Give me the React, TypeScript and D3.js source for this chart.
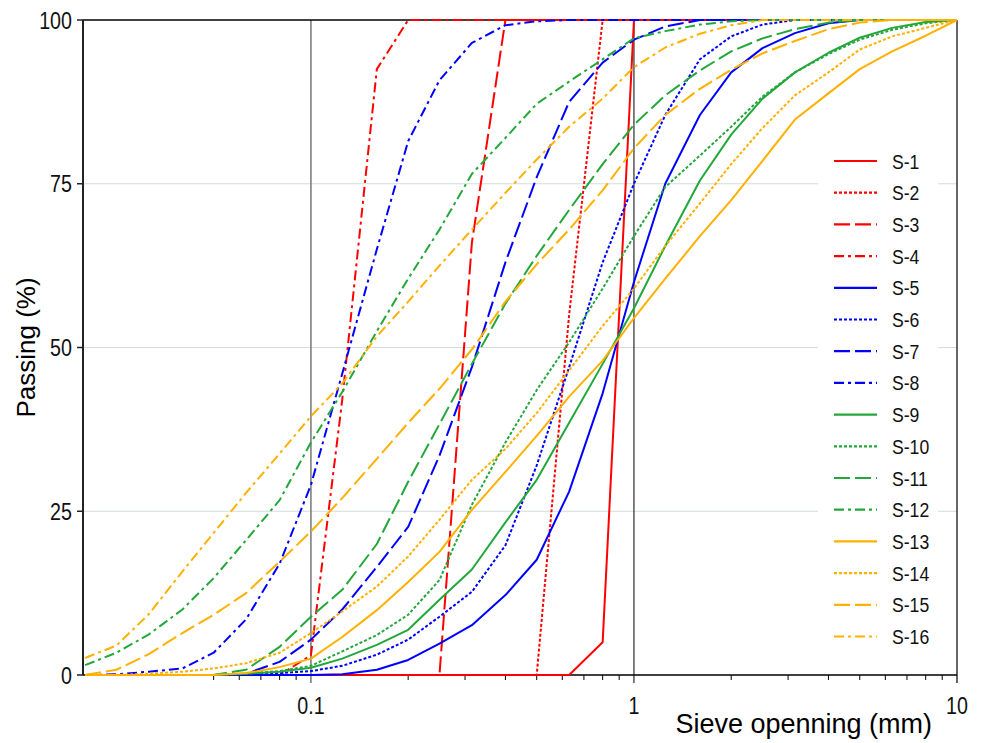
import React from "react";
import * as d3 from "d3";

// sieve sizes (mm), R10 series
const sieves = [
  0.02, 0.025, 0.0315, 0.04, 0.05, 0.063, 0.08, 0.1, 0.125, 0.16, 0.2, 0.25, 0.315, 0.4,
  0.5, 0.63, 0.8, 1, 1.25, 1.6, 2, 2.5, 3.15, 4, 5, 6.3, 8, 10,
];

// passing (%) per sample
const s1 = [0, 0, 0, 0, 0, 0, 0, 0, 0, 0, 0, 0, 0, 0, 0, 0, 5, 100, 100, 100, 100, 100, 100, 100, 100, 100, 100, 100];
const s2 = [0, 0, 0, 0, 0, 0, 0, 0, 0, 0, 0, 0, 0, 0, 0, 55, 100, 100, 100, 100, 100, 100, 100, 100, 100, 100, 100, 100];
const s3 = [0, 0, 0, 0, 0, 0, 0, 0, 0, 0, 0, 0, 66, 100, 100, 100, 100, 100, 100, 100, 100, 100, 100, 100, 100, 100, 100, 100];
const s4 = [0, 0, 0, 0, 0, 0, 0, 3, 42, 92.5, 100, 100, 100, 100, 100, 100, 100, 100, 100, 100, 100, 100, 100, 100, 100, 100, 100, 100];
const s5 = [0, 0, 0, 0, 0, 0, 0, 0, 0.1, 0.8, 2.3, 4.8, 7.6, 12.2, 17.6, 28, 43, 60, 75, 85.5, 92, 95.7, 98, 99.5, 100, 100, 100, 100];
const s6 = [0, 0, 0, 0, 0, 0.1, 0.3, 0.6, 1.4, 3.1, 5.4, 8.9, 12.7, 19.8, 32, 47, 63, 75, 85.5, 94, 97.5, 99.3, 100, 100, 100, 100, 100, 100];
const s7 = [0, 0, 0, 0, 0, 0.2, 2, 5.4, 10, 16.5, 22.6, 33.5, 47, 63, 76, 87.5, 93.5, 97, 99, 100, 100, 100, 100, 100, 100, 100, 100, 100];
const s8 = [0, 0.1, 0.5, 1, 3.4, 8.5, 17, 29, 46, 65, 81.5, 90.8, 96.5, 99.2, 99.8, 100, 100, 100, 100, 100, 100, 100, 100, 100, 100, 100, 100, 100];
const s9 = [0, 0, 0, 0, 0, 0.2, 0.5, 1.1, 2.5, 4.6, 6.9, 11.5, 16.1, 23.3, 29.8, 38.5, 47.5, 56, 65.5, 75.5, 82.5, 88, 92, 95, 97.3, 98.8, 99.7, 100];
const s10 = [0, 0, 0, 0, 0, 0.2, 0.6, 1.4, 3.6, 6.1, 9.2, 14.5, 26, 35.5, 43.5, 50.8, 59, 67, 74.5, 79.3, 83.7, 88.3, 92, 94.8, 97, 98.5, 99.5, 100];
const s11 = [0, 0, 0, 0, 0, 0.8, 4.3, 8.9, 13, 20, 29.5, 38.3, 47.5, 56.7, 64, 71, 78, 84, 88.5, 92.3, 95.2, 97.2, 98.6, 99.6, 100, 100, 100, 100];
const s12 = [1.5, 3.4, 6.2, 10, 14.8, 20.6, 26.7, 35.5, 43.2, 52.5, 60.5, 68, 76.5, 82, 87.2, 90.6, 94, 97.2, 98.3, 99.3, 99.8, 100, 100, 100, 100, 100, 100, 100];
const s13 = [0, 0, 0, 0, 0, 0.3, 1.2, 2.5, 5.8, 9.9, 14.2, 18.8, 25.2, 31, 36.5, 42.5, 48, 54.5, 60.5, 67, 72.5, 78.5, 84.8, 88.8, 92.5, 95.2, 97.6, 100];
const s14 = [0, 0, 0.2, 0.5, 1, 1.8, 3.4, 6.4, 9.7, 13.5, 18.1, 23.7, 29.8, 34.5, 40, 46.5, 53.3, 59, 65.5, 72, 78, 83.5, 88.5, 92, 95.5, 97.5, 98.8, 100];
const s15 = [0, 0.8, 3.2, 6.4, 9.2, 12.5, 17.3, 21.9, 27, 33, 38.5, 43.7, 49.7, 57, 62.7, 68, 74, 80.4, 85.5, 89.5, 92.4, 94.9, 96.8, 98.6, 99.6, 100, 100, 100];
const s16 = [2.6, 4.5, 9.3, 15.8, 21.7, 27.8, 33.8, 39.5, 44.5, 51.7, 57, 62.5, 68, 73.6, 78.7, 83.7, 88, 92.8, 95.8, 97.9, 99.2, 100, 100, 100, 100, 100, 100, 100];

const seriesNames = ["S-1", "S-2", "S-3", "S-4", "S-5", "S-6", "S-7", "S-8", "S-9", "S-10", "S-11", "S-12", "S-13", "S-14", "S-15", "S-16"];
const seriesValues = [s1, s2, s3, s4, s5, s6, s7, s8, s9, s10, s11, s12, s13, s14, s15, s16];

const colors = ["#ff0000", "#0000ff", "#22a83a", "#ffb000"];
const dashes = ["none", "3,2", "16,5", "10,4,3,4"];

const yTicks = [0, 25, 50, 75, 100];
const majorTicks = [0.1, 1, 10];
const majorLabels = ["0.1", "1", "10"];
const minorTicks = [0.05, 0.06, 0.07, 0.08, 0.09, 0.2, 0.3, 0.4, 0.5, 0.6, 0.7, 0.8, 0.9, 2, 3, 4, 5, 6, 7, 8, 9];

const FONT = "'Liberation Sans', Arial, sans-serif";

function App() {
  const width = 981;
  const height = 743;
  const MARGIN = { top: 20, right: 24, bottom: 68, left: 83 };
  const x0 = MARGIN.left;
  const x1 = width - MARGIN.right;
  const y0 = height - MARGIN.bottom;
  const y1 = MARGIN.top;

  const xScale = d3.scaleLog().domain([0.0197, 10]).range([x0, x1]);
  const yScale = d3.scaleLinear().domain([0, 100]).range([y0, y1]);

  const line = d3
    .line<number>()
    .x((d, i) => xScale(sieves[i]))
    .y((d) => yScale(d));

  const legendX = 834;
  const legendY = 161;
  const legendStep = 31.7;

  return (
    <div>
      <style>{"body{margin:0}"}</style>
      <svg width={width} height={height} style={{ display: "block" }}>
        <rect width={width} height={height} fill="#fff" />

        {/* horizontal grid */}
        {yTicks
          .filter((t) => t > 0 && t < 100)
          .map((t) => (
            <line key={t} x1={x0} x2={x1} y1={yScale(t)} y2={yScale(t)} stroke="#d3dcdc" strokeWidth={1} />
          ))}

        {/* vertical grid at 0.1 and 1 */}
        <line x1={xScale(0.1)} x2={xScale(0.1)} y1={y1} y2={y0 + 8} stroke="#7f7f7f" strokeWidth={1.6} />
        <line x1={xScale(1)} x2={xScale(1)} y1={y1} y2={y0 + 8} stroke="#000" strokeWidth={1} />

        {/* legend background */}
        <rect x={818} y={140} width={120} height={515} fill="#fff" />

        {/* frame */}
        <line x1={x0} x2={x1} y1={y1} y2={y1} stroke="#000" strokeWidth={1.5} />
        <line x1={x1} x2={x1} y1={y1} y2={y0 + 8} stroke="#000" strokeWidth={1.2} />
        <line x1={x0} x2={x1} y1={y0} y2={y0} stroke="#000" strokeWidth={1.5} />
        <line x1={x0} x2={x0} y1={y1} y2={y0} stroke="#222" strokeWidth={2} />

        {/* x ticks */}
        {minorTicks.map((t) => (
          <line key={t} x1={xScale(t)} x2={xScale(t)} y1={y0} y2={y0 + 5} stroke="#000" strokeWidth={1} />
        ))}
        {majorTicks.map((t, i) => (
          <text
            key={t}
            transform={`translate(${xScale(t)},${y0 + 39}) scale(0.82,1)`}
            textAnchor="middle"
            fontFamily={FONT}
            fontSize={24}
            fill="#111"
          >
            {majorLabels[i]}
          </text>
        ))}

        {/* y ticks */}
        {yTicks.map((t) => (
          <g key={t}>
            <line x1={x0 - 6} x2={x0} y1={yScale(t)} y2={yScale(t)} stroke="#222" strokeWidth={1.5} />
            <text
              transform={`translate(${x0 - 11},${yScale(t) + 8.5}) scale(0.82,1)`}
              textAnchor="end"
              fontFamily={FONT}
              fontSize={24}
              fill="#111"
            >
              {t}
            </text>
          </g>
        ))}

        {/* curves */}
        {seriesValues.map((vals, i) => (
          <path
            key={seriesNames[i]}
            d={line(vals) ?? ""}
            fill="none"
            stroke={colors[Math.floor(i / 4)]}
            strokeWidth={2}
            strokeDasharray={dashes[i % 4]}
            strokeLinejoin="round"
          />
        ))}

        {/* legend */}
        {seriesNames.map((name, i) => {
          const ly = legendY + i * legendStep;
          return (
            <g key={name}>
              <line
                x1={legendX}
                x2={legendX + 43}
                y1={ly}
                y2={ly}
                stroke={colors[Math.floor(i / 4)]}
                strokeWidth={2.2}
                strokeDasharray={dashes[i % 4]}
              />
              <text
                transform={`translate(${legendX + 58},${ly + 7.5}) scale(0.84,1)`}
                fontFamily={FONT}
                fontSize={21}
                fill="#111"
              >
                {name}
              </text>
            </g>
          );
        })}

        {/* axis titles */}
        <text x={932} y={733} textAnchor="end" fontFamily={FONT} fontSize={27} fill="#000">
          Sieve openning (mm)
        </text>
        <text
          transform={`translate(35,${(y0 + y1) / 2}) rotate(-90)`}
          textAnchor="middle"
          fontFamily={FONT}
          fontSize={26}
          fill="#000"
        >
          Passing (%)
        </text>
      </svg>
    </div>
  );
}

export default App;
